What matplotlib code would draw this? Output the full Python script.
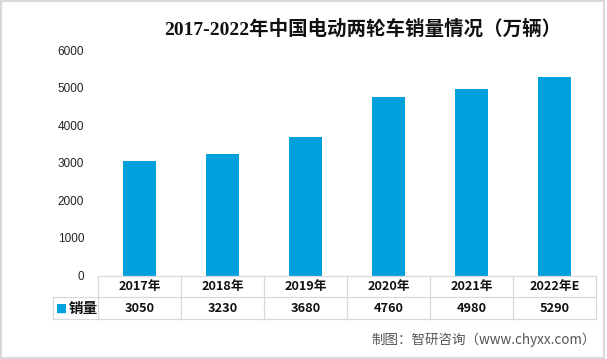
import matplotlib
matplotlib.use("Agg")
import matplotlib.pyplot as plt
from matplotlib.patches import Rectangle

categories = ["2017年", "2018年", "2019年", "2020年", "2021年", "2022年E"]
sales = [3050, 3230, 3680, 4760, 4980, 5290]
series_name = "销量"
yticks = [0, 1000, 2000, 3000, 4000, 5000, 6000]
title = "2017-2022年中国电动两轮车销量情况（万辆）"
source = "制图：智研咨询（www.chyxx.com）"

plt.rcParams['font.family'] = ['Noto Sans CJK SC', 'DejaVu Sans']
BAR = '#00A0DC'
GRID = '#D9D9D9'

fig = plt.figure(figsize=(6.07, 3.59), dpi=100)
fig.patch.set_facecolor('white')
ax = fig.add_axes([98/607, 83.5/359, 498/607, 225.2/359])

x = list(range(len(categories)))
ax.bar(x, sales, width=0.39, color=BAR, zorder=2)
ax.set_xlim(-0.5, len(categories) - 0.5)
ax.set_ylim(0, 6000)
ax.set_yticks(yticks)
ax.set_yticklabels([str(v) for v in yticks], fontsize=8.5, color='#222222',
                   family=['Liberation Sans', 'DejaVu Sans'])
ax.tick_params(axis='y', length=0, pad=10)
ax.set_xticks([])
for s in ax.spines.values():
    s.set_visible(False)

# table
rh = 21.8 / 225.2
leg_left = -0.5 - 45 * (len(categories) / 498)
tr = ax.get_xaxis_transform()
n = len(categories)
lk = dict(color=GRID, lw=0.9, transform=tr, clip_on=False, zorder=3)
ax.plot([-0.5, n - 0.5], [0, 0], **lk)
ax.plot([leg_left, n - 0.5], [-rh, -rh], **lk)
ax.plot([leg_left, n - 0.5], [-2 * rh, -2 * rh], **lk)
for i in range(n + 1):
    ax.plot([i - 0.5, i - 0.5], [0, -2 * rh], **lk)
ax.plot([leg_left, leg_left], [-rh, -2 * rh], **lk)

for i, (c, v) in enumerate(zip(categories, sales)):
    ax.text(i, -0.5 * rh, c, transform=tr, ha='center', va='center',
            fontsize=9.2, fontweight='bold', color='#111111')
    ax.text(i, -1.5 * rh, str(v), transform=tr, ha='center', va='center',
            fontsize=9.2, fontweight='bold', color='#111111')

ax.text(leg_left + 0.03, -1.5 * rh, "■", transform=tr, ha='left', va='center',
        fontsize=8.5, color=BAR, family=['DejaVu Sans'])
ax.text(leg_left + 0.19, -1.5 * rh, series_name, transform=tr, ha='left', va='center',
        fontsize=10.5, fontweight='bold', color='#111111')

fig.text(363/607, 1 - 29/359, title, ha='center', va='center', fontsize=14,
         fontweight='bold', color='#111111',
         family=['Liberation Serif', 'Noto Sans CJK SC'])
fig.text(596/607, 1 - 340/359, source, ha='right', va='center', fontsize=9.7,
         color='#555555')

fig.patches.append(Rectangle((0.002, 0.004), 0.993, 0.992, transform=fig.transFigure,
                             fill=False, edgecolor=GRID, lw=1.5))

fig.savefig("out.png", dpi=100, facecolor='white')
